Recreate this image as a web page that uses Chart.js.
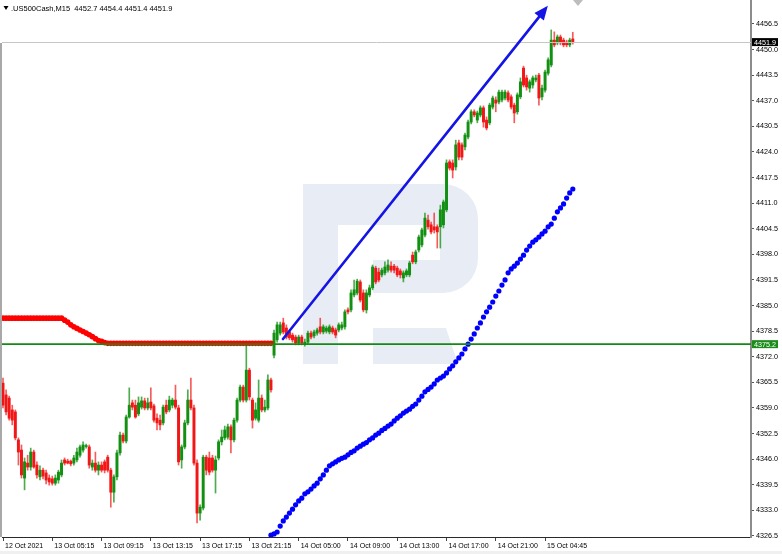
<!DOCTYPE html>
<html><head><meta charset="utf-8">
<script src="https://cdn.jsdelivr.net/npm/chart.js@4.4.0/dist/chart.umd.min.js"></script>
<style>html,body{margin:0;padding:0;background:#fff;overflow:hidden}</style>
</head><body>
<canvas id="c" width="782" height="554"></canvas>
<script>
// ---------- data ----------
const symbolTitle = '.US500Cash,M15';
const lastBarOHLC = [4452.7, 4454.4, 4451.4, 4451.9];
const timeLabels = ['12 Oct 2021','13 Oct 05:15','13 Oct 09:15','13 Oct 13:15','13 Oct 17:15','13 Oct 21:15','14 Oct 05:00','14 Oct 09:00','14 Oct 13:00','14 Oct 17:00','14 Oct 21:00','15 Oct 04:45'];
const timeTickBars = [0,16,32,48,64,80,96,112,128,144,160,176];
const priceTicks = [4326.5,4333.0,4339.5,4346.0,4352.5,4359.0,4365.5,4372.0,4378.5,4385.0,4391.5,4398.0,4404.5,4411.0,4417.5,4424.0,4430.5,4437.0,4443.5,4450.0,4456.5];
const priceMin = 4326.23, priceMax = 4462.59;
const barMin = -0.325, barMax = 242.86;
const currentPrice = 4451.9;
const levelPrice = 4375.2;
const arrowFrom = [90.9, 4376.5];
const arrowTo = [176.9, 4461.1];

// candles: [open, high, low, close]
const candles = [
[4365.3,4366.6,4359.0,4359.7],[4362.3,4363.6,4357.2,4358.0],[4361.5,4362.0,4355.9,4356.4],[4358.5,4359.7,4354.7,4355.9],
[4358.0,4358.5,4350.9,4351.4],[4350.9,4351.4,4344.5,4347.8],[4348.3,4349.6,4341.2,4342.0],[4341.2,4346.3,4338.2,4345.3],
[4345.0,4347.0,4343.2,4344.0],[4344.0,4348.8,4343.2,4347.8],[4347.8,4348.3,4343.7,4344.0],[4344.5,4345.3,4341.2,4342.0],
[4341.5,4344.3,4340.7,4343.2],[4343.2,4343.7,4341.0,4341.7],[4342.5,4343.2,4339.7,4340.7],[4341.2,4342.0,4339.4,4340.2],
[4341.0,4341.7,4339.4,4339.9],[4339.9,4342.0,4339.4,4341.2],[4340.7,4343.2,4339.9,4342.7],[4342.0,4345.8,4341.5,4345.0],
[4345.8,4346.3,4344.5,4345.0],[4345.5,4346.0,4344.8,4345.0],[4345.5,4345.8,4344.3,4344.8],[4345.0,4347.0,4344.5,4346.3],
[4345.8,4348.8,4345.3,4347.8],[4347.0,4349.6,4346.5,4349.1],[4348.3,4350.4,4347.8,4349.6],[4349.2,4349.8,4348.8,4349.4],
[4349.1,4349.6,4343.7,4344.5],[4344.0,4345.8,4343.2,4345.0],[4345.0,4347.8,4342.7,4343.2],[4343.2,4345.3,4342.0,4344.5],
[4344.5,4345.3,4342.7,4343.2],[4345.3,4345.8,4342.5,4343.2],[4346.5,4347.0,4342.7,4343.2],[4343.2,4343.7,4333.8,4337.6],
[4337.6,4342.0,4335.1,4341.5],[4341.5,4348.3,4340.7,4347.6],[4347.6,4352.9,4347.0,4352.1],[4352.1,4352.6,4350.1,4350.6],
[4350.6,4357.2,4350.1,4356.7],[4356.7,4364.1,4356.4,4359.7],[4360.3,4361.0,4358.5,4359.2],[4359.7,4361.0,4356.4,4356.7],
[4357.5,4361.8,4357.0,4360.3],[4359.2,4361.8,4358.7,4360.8],[4360.8,4361.5,4358.5,4359.0],[4359.0,4361.5,4358.5,4360.3],
[4360.5,4364.1,4358.5,4359.0],[4359.5,4360.0,4355.4,4355.9],[4356.4,4357.5,4353.4,4355.2],[4355.9,4357.2,4353.4,4354.7],
[4355.2,4359.7,4354.7,4359.2],[4359.7,4361.0,4357.5,4358.0],[4358.5,4362.0,4358.0,4361.0],[4359.7,4361.5,4359.0,4361.0],
[4361.0,4364.8,4358.7,4359.2],[4359.0,4359.7,4344.5,4345.3],[4345.8,4349.6,4343.7,4349.1],[4349.1,4355.9,4348.6,4355.2],
[4355.2,4363.6,4354.7,4361.0],[4361.0,4366.6,4358.5,4359.0],[4359.0,4359.7,4344.5,4345.0],[4345.0,4345.8,4329.8,4332.3],
[4332.3,4334.4,4330.5,4333.8],[4333.6,4347.0,4333.1,4346.5],[4346.5,4347.0,4342.0,4343.2],[4346.3,4347.8,4342.0,4342.7],
[4346.3,4347.0,4342.7,4343.2],[4343.2,4346.8,4337.4,4345.8],[4346.3,4350.9,4345.8,4350.4],[4350.4,4353.4,4349.6,4351.6],
[4351.4,4354.4,4350.9,4353.4],[4351.6,4354.9,4351.1,4354.2],[4354.2,4354.7,4347.6,4350.9],[4350.9,4356.4,4350.4,4355.9],
[4355.9,4361.5,4355.4,4361.0],[4361.0,4364.8,4360.5,4364.3],[4364.3,4364.8,4360.5,4361.0],[4361.0,4375.0,4360.5,4368.6],
[4368.6,4369.1,4361.0,4361.8],[4361.0,4361.5,4353.9,4355.9],[4356.4,4360.3,4355.9,4358.5],[4355.9,4366.1,4355.4,4361.5],
[4361.5,4362.3,4358.0,4358.5],[4358.5,4361.0,4358.0,4359.2],[4359.0,4367.4,4358.5,4366.1],[4366.1,4366.6,4363.0,4363.6],
[4372.4,4378.8,4371.7,4378.0],[4376.3,4380.8,4375.7,4380.1],[4378.0,4380.8,4377.5,4380.1],[4380.6,4381.8,4377.8,4378.3],
[4379.3,4380.1,4376.5,4377.0],[4378.3,4378.8,4376.3,4376.8],[4377.5,4378.0,4375.7,4376.3],[4377.0,4377.5,4375.0,4375.5],
[4375.5,4377.5,4375.0,4377.0],[4377.0,4377.5,4375.0,4375.5],[4375.2,4376.5,4374.7,4375.7],[4375.7,4378.5,4375.2,4378.0],
[4378.0,4378.5,4376.5,4377.0],[4377.3,4378.8,4376.8,4378.3],[4378.0,4379.3,4377.5,4378.8],[4379.6,4381.8,4377.8,4378.3],
[4378.3,4380.1,4377.8,4379.6],[4378.5,4379.8,4378.0,4379.3],[4378.3,4380.1,4377.8,4379.6],[4379.3,4379.8,4377.8,4378.3],
[4378.8,4379.3,4376.8,4377.5],[4378.8,4380.6,4378.3,4380.1],[4379.3,4380.8,4378.8,4380.1],[4379.6,4383.9,4379.0,4383.4],
[4383.9,4384.4,4382.9,4383.4],[4383.9,4389.0,4383.4,4388.2],[4387.7,4391.5,4387.2,4389.0],[4388.2,4391.7,4387.7,4391.2],
[4391.0,4391.5,4385.9,4386.4],[4388.2,4389.0,4383.4,4383.9],[4383.9,4389.0,4383.1,4388.2],[4387.7,4390.2,4387.2,4389.5],
[4389.5,4395.3,4389.0,4394.8],[4394.5,4395.0,4390.5,4391.0],[4393.5,4394.5,4391.0,4391.5],[4392.8,4394.5,4392.3,4394.0],
[4393.3,4396.1,4392.8,4394.8],[4394.0,4396.6,4393.5,4395.3],[4395.0,4396.1,4393.5,4394.0],[4395.0,4395.5,4393.3,4394.0],
[4394.5,4395.0,4392.3,4392.8],[4393.8,4394.3,4392.0,4392.8],[4392.0,4393.8,4391.0,4393.3],[4392.8,4394.3,4392.3,4393.8],
[4392.8,4396.3,4392.3,4395.8],[4397.8,4398.6,4395.6,4396.1],[4396.1,4399.1,4395.6,4398.6],[4399.1,4402.9,4398.6,4402.4],
[4400.4,4404.7,4399.9,4404.2],[4402.9,4408.5,4402.4,4407.2],[4406.7,4408.0,4404.4,4405.0],[4405.5,4406.2,4403.2,4403.7],
[4405.0,4408.5,4403.4,4404.2],[4405.0,4405.5,4399.6,4403.7],[4405.0,4410.5,4399.6,4409.3],[4405.5,4411.8,4404.7,4411.3],
[4409.3,4422.0,4408.8,4421.2],[4421.5,4422.0,4419.4,4419.9],[4421.2,4422.0,4417.4,4419.4],[4420.2,4427.0,4419.4,4425.8],
[4426.3,4427.0,4422.0,4422.7],[4425.8,4426.3,4422.0,4422.7],[4425.3,4428.8,4424.5,4428.3],[4427.8,4432.1,4427.3,4431.6],
[4431.6,4434.7,4431.1,4434.2],[4434.2,4434.7,4432.9,4433.4],[4432.1,4434.4,4431.4,4433.9],[4433.4,4435.7,4432.9,4435.2],
[4435.2,4435.7,4430.3,4431.6],[4432.1,4432.9,4429.6,4430.1],[4431.4,4436.4,4430.9,4435.9],[4435.4,4438.2,4434.9,4437.7],
[4437.2,4438.0,4434.2,4436.4],[4436.7,4439.7,4436.2,4439.2],[4437.2,4439.7,4436.7,4439.2],[4437.7,4439.7,4437.2,4439.2],
[4439.0,4439.5,4436.7,4437.2],[4438.0,4438.5,4434.9,4435.4],[4435.9,4436.4,4431.4,4433.9],[4434.2,4439.0,4433.6,4438.5],
[4438.0,4442.8,4437.5,4441.8],[4445.3,4445.8,4440.5,4441.0],[4442.8,4443.5,4439.7,4440.5],[4440.2,4442.3,4439.2,4441.8],
[4441.0,4443.3,4440.2,4442.8],[4442.3,4443.5,4441.8,4442.8],[4443.5,4444.0,4435.9,4437.7],[4438.0,4441.0,4437.2,4440.2],
[4439.7,4444.8,4439.2,4444.3],[4444.0,4447.9,4443.5,4447.4],[4446.1,4455.0,4445.6,4452.4],[4452.4,4454.5,4450.7,4451.2],
[4451.7,4453.7,4451.2,4453.2],[4453.2,4453.7,4451.2,4451.7],[4452.4,4452.9,4450.7,4451.2],[4451.9,4452.4,4450.7,4451.2],
[4451.2,4452.9,4450.7,4452.4],[4452.7,4454.4,4451.4,4451.9]
];

// red dotted indicator, bars 0..87
const redStartBar = 0;
const redDots = [
4381.8,4381.8,4381.8,4381.8,4381.8,4381.8,4381.8,4381.8,4381.8,4381.8,
4381.8,4381.8,4381.8,4381.8,4381.8,4381.8,4381.8,4381.8,4381.8,4381.8,
4381.3,4380.8,4380.1,4379.6,4379.2,4378.8,4378.4,4378.0,4377.6,4377.1,
4376.6,4376.1,4375.9,4375.6,
4375.4,4375.4,4375.4,4375.4,4375.4,4375.4,4375.4,4375.4,4375.4,4375.4,
4375.4,4375.4,4375.4,4375.4,4375.4,4375.4,4375.4,4375.4,4375.4,4375.4,
4375.4,4375.4,4375.4,4375.4,4375.4,4375.4,4375.4,4375.4,4375.4,4375.4,
4375.4,4375.4,4375.4,4375.4,4375.4,4375.4,4375.4,4375.4,4375.4,4375.4,
4375.4,4375.4,4375.4,4375.4,4375.4,4375.4,4375.4,4375.4,4375.4,4375.4,
4375.4,4375.4,4375.4,4375.4
];

// blue dotted indicator, bars 87..185
const blueStartBar = 87;
const blueDots = [
4326.7,4327.0,4327.5,4329.0,4330.3,4331.3,4332.3,4333.3,4334.4,4335.4,
4336.1,4337.2,4337.7,4338.4,4339.2,4339.9,4341.0,4342.0,4343.2,4344.3,
4344.8,4345.3,4345.8,4346.2,4346.5,4347.1,4347.7,4348.1,4348.8,4349.3,
4349.8,4350.2,4350.9,4351.4,4352.1,4352.6,4353.3,4353.8,4354.4,4354.9,
4355.7,4356.4,4357.0,4357.7,4358.2,4358.7,4359.4,4360.0,4361.0,4362.0,
4363.1,4363.7,4364.3,4365.1,4366.1,4366.6,4367.1,4367.9,4368.9,4369.7,
4370.7,4371.7,4372.7,4374.0,4375.2,4376.5,4377.8,4379.3,4380.6,4382.1,
4383.4,4384.6,4385.9,4387.4,4388.7,4390.2,4391.5,4393.3,4394.3,4395.0,
4395.8,4396.8,4397.8,4399.1,4400.1,4401.1,4401.7,4402.4,4403.2,4403.9,
4405.0,4405.7,4407.2,4408.8,4409.8,4410.8,4412.3,4413.6,4414.6
];

// ---------- styling ----------
const FONT = '"Liberation Sans", Arial, sans-serif';
const UP = '#129012', DOWN = '#f21616';
const UPW = 'rgba(18,144,18,0.75)', DOWNW = 'rgba(242,22,22,0.7)';

const bodyData = candles.map((c, i) => ({x: i, y: [c[0], c[3]]}));
const wickData = candles.map((c, i) => ({x: i, y: [c[2], c[1]]}));
const bodyColors = candles.map(c => c[3] >= c[0] ? UP : DOWN);
const wickColors = candles.map(c => c[3] >= c[0] ? UPW : DOWNW);
const redData = redDots.map((v, i) => ({x: redStartBar + i, y: v}));
const blueData = blueDots.map((v, i) => ({x: blueStartBar + i, y: v}));

const decor = {
  id: 'decor',
  beforeDraw(chart) {
    const ctx = chart.ctx;
    ctx.save();
    ctx.fillStyle = '#ffffff';
    ctx.fillRect(0, 0, chart.width, chart.height);
    ctx.fillStyle = '#f0f0f0';
    ctx.fillRect(0, 551, chart.width, 3);
    ctx.restore();
  },
  beforeDatasetsDraw(chart) {
    const ctx = chart.ctx;
    ctx.save();
    ctx.fillStyle = '#e8edf5';
    ctx.beginPath();
    ctx.moveTo(303, 184);
    ctx.lineTo(443, 184);
    ctx.arcTo(478, 184, 478, 219, 35);
    ctx.lineTo(478, 258);
    ctx.arcTo(478, 293, 443, 293, 35);
    ctx.lineTo(373, 293);
    ctx.lineTo(373, 225);
    ctx.lineTo(338, 225);
    ctx.lineTo(338, 364);
    ctx.lineTo(303, 364);
    ctx.closePath();
    ctx.fill();
    ctx.fillStyle = '#ffffff';
    ctx.fillRect(373, 225, 67, 35);
    ctx.fillStyle = '#e8edf5';
    ctx.beginPath();
    ctx.moveTo(373, 328); ctx.lineTo(446, 328); ctx.lineTo(458, 364); ctx.lineTo(373, 364);
    ctx.closePath();
    ctx.fill();
    ctx.restore();
  },
  afterDatasetsDraw(chart) {
    const ctx = chart.ctx, xs = chart.scales.x, ys = chart.scales.y, a = chart.chartArea;
    ctx.save();
    const yc = Math.round(ys.getPixelForValue(currentPrice)) + 0.5;
    ctx.strokeStyle = '#c6c6c6'; ctx.lineWidth = 1;
    ctx.beginPath(); ctx.moveTo(a.left, yc); ctx.lineTo(a.right, yc); ctx.stroke();
    const yl = ys.getPixelForValue(levelPrice);
    ctx.strokeStyle = '#138a13'; ctx.lineWidth = 1.6;
    ctx.beginPath(); ctx.moveTo(a.left, yl); ctx.lineTo(a.right, yl); ctx.stroke();
    const x1 = xs.getPixelForValue(arrowFrom[0]), y1 = ys.getPixelForValue(arrowFrom[1]);
    const x2 = xs.getPixelForValue(arrowTo[0]), y2 = ys.getPixelForValue(arrowTo[1]);
    const ang = Math.atan2(y2 - y1, x2 - x1);
    const hl = 14, hw = 6;
    const bx = x2 - hl * Math.cos(ang), by = y2 - hl * Math.sin(ang);
    ctx.strokeStyle = '#1414e6'; ctx.lineWidth = 2.6; ctx.lineCap = 'round';
    ctx.beginPath(); ctx.moveTo(x1, y1); ctx.lineTo(bx, by); ctx.stroke();
    ctx.fillStyle = '#1414e6';
    ctx.beginPath();
    ctx.moveTo(x2, y2);
    ctx.lineTo(bx + hw * Math.sin(ang), by - hw * Math.cos(ang));
    ctx.lineTo(bx - hw * Math.sin(ang), by + hw * Math.cos(ang));
    ctx.closePath(); ctx.fill();
    ctx.restore();
  },
  afterDraw(chart) {
    const ctx = chart.ctx, ys = chart.scales.y, a = chart.chartArea;
    ctx.save();
    ctx.fillStyle = '#a8a8a8';
    ctx.fillRect(0, 43, 2, a.bottom - 43);
    ctx.fillStyle = '#bdbdbd';
    ctx.beginPath(); ctx.moveTo(573, 0); ctx.lineTo(583, 0); ctx.lineTo(578, 6); ctx.closePath(); ctx.fill();
    ctx.fillStyle = '#000';
    ctx.beginPath(); ctx.moveTo(3.5, 6); ctx.lineTo(8.5, 6); ctx.lineTo(6, 10); ctx.closePath(); ctx.fill();
    ctx.font = '7.5px ' + FONT;
    ctx.textBaseline = 'middle'; ctx.textAlign = 'left';
    ctx.fillText(symbolTitle + '  ' + lastBarOHLC.map(v => v.toFixed(1)).join(' '), 11, 8.5);
    ctx.font = '7.2px ' + FONT;
    const box = (v, bg) => {
      const y = ys.getPixelForValue(v);
      ctx.fillStyle = bg; ctx.fillRect(752, y - 4, 26, 8);
      ctx.fillStyle = '#fff'; ctx.fillText(v.toFixed(1), 754, y + 0.5);
    };
    box(currentPrice, '#000000');
    box(levelPrice, '#1a8c1a');
    ctx.restore();
  }
};

new Chart(document.getElementById('c'), {
  type: 'bar',
  data: {
    datasets: [
      {type: 'line', data: redData, showLine: false, pointRadius: 2.8, pointBackgroundColor: '#ff0000', pointBorderWidth: 0, pointBorderColor: '#ff0000', order: 0},
      {type: 'line', data: blueData, showLine: false, pointRadius: 2.6, pointBackgroundColor: '#0000ff', pointBorderWidth: 0, pointBorderColor: '#0000ff', order: 0},
      {type: 'bar', data: bodyData, backgroundColor: bodyColors, barThickness: 2.3, grouped: false, borderWidth: 0, minBarLength: 1, order: 1},
      {type: 'bar', data: wickData, backgroundColor: wickColors, barThickness: 1, grouped: false, borderWidth: 0, order: 2}
    ]
  },
  options: {
    responsive: false,
    animation: false,
    events: [],
    layout: {autoPadding: false, padding: {left: 2, right: 0, top: 0, bottom: 0}},
    plugins: {legend: {display: false}, tooltip: {enabled: false}, title: {display: false}},
    scales: {
      x: {
        type: 'linear', position: 'bottom', min: barMin, max: barMax, offset: false,
        afterBuildTicks: s => { s.ticks = timeTickBars.map(v => ({value: v})); },
        afterFit: s => { s.height = 17; s.paddingLeft = 0; s.paddingRight = 0; },
        grid: {offset: false, drawOnChartArea: false, drawTicks: true, tickLength: 4, color: '#444', lineWidth: 1},
        border: {display: true, color: '#2a2a2a', width: 1},
        ticks: {autoSkip: false, maxRotation: 0, minRotation: 0, align: 'start', labelOffset: 2, padding: 1,
                color: '#000', font: {family: FONT, size: 7},
                callback: (v, i) => timeLabels[i]}
      },
      y: {
        type: 'linear', position: 'right', min: priceMin, max: priceMax,
        afterBuildTicks: s => { s.ticks = priceTicks.map(v => ({value: v})); },
        afterFit: s => { s.width = 31; s.paddingTop = 0; s.paddingBottom = 0; },
        grid: {drawOnChartArea: false, drawTicks: true, tickLength: 3, color: '#555', lineWidth: 1},
        border: {display: true, color: '#8c8c8c', width: 2},
        ticks: {autoSkip: false, padding: 2, color: '#000', font: {family: FONT, size: 7.2},
                callback: v => Number(v).toFixed(1)}
      }
    }
  },
  plugins: [decor]
});
</script>
</body></html>
